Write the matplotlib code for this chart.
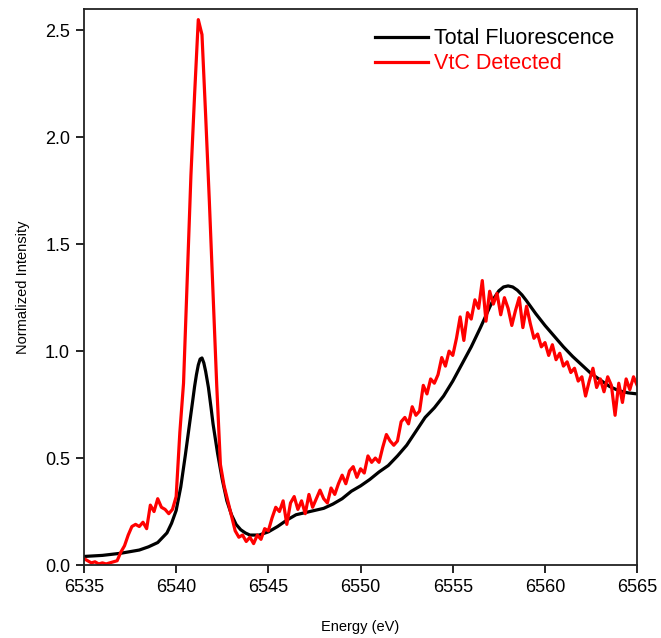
import numpy as np
import matplotlib
matplotlib.use("Agg")
import matplotlib.pyplot as plt

plt.rcParams["font.family"] = ["Liberation Sans", "DejaVu Sans"]

# Total fluorescence (smooth curve)
tf_energy = [6535.0, 6536.0, 6537.0, 6538.0, 6538.5, 6539.0, 6539.5, 6539.75,
             6540.0, 6540.25, 6540.5, 6540.75, 6540.9, 6541.0, 6541.1, 6541.2,
             6541.3, 6541.4, 6541.5, 6541.6, 6541.75, 6541.9, 6542.0, 6542.25,
             6542.5, 6542.75, 6543.0, 6543.25, 6543.5, 6543.75, 6544.0, 6544.5,
             6545.0, 6545.5, 6546.0, 6546.5, 6547.0, 6547.5, 6548.0, 6548.5,
             6549.0, 6549.5, 6550.0, 6550.5, 6551.0, 6551.5, 6552.0, 6552.5,
             6553.0, 6553.5, 6554.0, 6554.5, 6555.0, 6555.5, 6556.0, 6556.5,
             6557.0, 6557.25, 6557.5, 6557.75, 6558.0, 6558.25, 6558.5, 6558.75,
             6559.0, 6559.5, 6560.0, 6560.5, 6561.0, 6561.5, 6562.0, 6562.5,
             6563.0, 6563.5, 6564.0, 6564.5, 6565.0]
tf_intensity = [0.040, 0.045, 0.055, 0.070, 0.085, 0.105, 0.150, 0.195,
                0.255, 0.365, 0.515, 0.675, 0.770, 0.835, 0.890, 0.935,
                0.963, 0.968, 0.945, 0.905, 0.830, 0.730, 0.660, 0.520,
                0.400, 0.300, 0.235, 0.190, 0.165, 0.150, 0.140, 0.140,
                0.155, 0.180, 0.210, 0.235, 0.245, 0.255, 0.265, 0.285,
                0.310, 0.345, 0.370, 0.400, 0.435, 0.465, 0.510, 0.560,
                0.625, 0.690, 0.735, 0.790, 0.860, 0.940, 1.020, 1.110,
                1.205, 1.250, 1.282, 1.300, 1.305, 1.300, 1.285, 1.263,
                1.235, 1.175, 1.120, 1.070, 1.020, 0.975, 0.935, 0.895,
                0.865, 0.835, 0.815, 0.805, 0.800]

# VtC detected (noisy curve), sampled every 0.2 eV from 6535 to 6565
vtc_energy = np.linspace(6535.0, 6565.0, 151)
vtc_intensity = [
    0.03, 0.02, 0.01, 0.015, 0.005, 0.01, 0.005, 0.01, 0.015, 0.02,   # 6535.0
    0.06, 0.09, 0.14, 0.18, 0.19, 0.18, 0.20, 0.17, 0.28, 0.25,        # 6537.0
    0.31, 0.27, 0.26, 0.24, 0.26, 0.32, 0.62, 0.85, 1.33, 1.82,        # 6539.0
    2.20, 2.55, 2.48, 2.10, 1.70, 1.27, 0.84, 0.47, 0.37, 0.30,        # 6541.0
    0.23, 0.16, 0.13, 0.14, 0.11, 0.13, 0.10, 0.14, 0.12, 0.17,        # 6543.0
    0.16, 0.22, 0.27, 0.25, 0.30, 0.19, 0.29, 0.32, 0.26, 0.30,        # 6545.0
    0.24, 0.33, 0.27, 0.31, 0.35, 0.31, 0.29, 0.36, 0.33, 0.38,        # 6547.0
    0.42, 0.38, 0.44, 0.46, 0.41, 0.45, 0.43, 0.51, 0.48, 0.50,        # 6549.0
    0.48, 0.55, 0.61, 0.58, 0.56, 0.58, 0.67, 0.69, 0.66, 0.74,        # 6551.0
    0.70, 0.72, 0.84, 0.80, 0.87, 0.85, 0.89, 0.97, 0.93, 1.00,        # 6553.0
    0.98, 1.06, 1.16, 1.05, 1.18, 1.15, 1.24, 1.20, 1.33, 1.14,        # 6555.0
    1.28, 1.22, 1.27, 1.17, 1.25, 1.20, 1.12, 1.19, 1.25, 1.11,        # 6557.0
    1.21, 1.13, 1.06, 1.08, 1.02, 1.04, 0.98, 1.03, 0.96, 0.99,        # 6559.0
    0.93, 0.95, 0.90, 0.92, 0.86, 0.88, 0.79, 0.86, 0.92, 0.83,        # 6561.0
    0.87, 0.81, 0.88, 0.84, 0.70, 0.85, 0.76, 0.87, 0.82, 0.88,        # 6563.0
    0.84,                                                              # 6565.0
]

x_ticks = [6535, 6540, 6545, 6550, 6555, 6560, 6565]
y_ticks = [0.0, 0.5, 1.0, 1.5, 2.0, 2.5]

fig = plt.figure(figsize=(6.61, 6.38), dpi=100)
ax = fig.add_axes([0.127, 0.1144, 0.837, 0.8716])

ax.plot(tf_energy, tf_intensity, color="black", lw=2.3, label="Total Fluorescence")
ax.plot(vtc_energy, vtc_intensity, color="#ff0000", lw=2.3, label="VtC Detected")

ax.set_xlim(6535, 6565)
ax.set_ylim(0, 2.6)
ax.set_xticks(x_ticks)
ax.set_yticks(y_ticks)
ax.set_yticklabels([f"{v:.1f}" for v in y_ticks])
ax.tick_params(direction="out", length=6, width=1.2, labelsize=13, pad=4)
for sp in ax.spines.values():
    sp.set_linewidth(1.3)
    sp.set_color("#222222")

ax.set_xlabel("Energy (eV)", fontsize=10.5, labelpad=17)
ax.set_ylabel("Normalized Intensity", fontsize=10.5, labelpad=11)

leg = ax.legend(loc="upper right", bbox_to_anchor=(0.958, 0.965), frameon=False,
                fontsize=15.5, handlelength=2.5, handletextpad=0.25,
                labelspacing=0.18, borderpad=0, borderaxespad=0,
                labelcolor="linecolor")

fig.savefig("out.png", dpi=100)
